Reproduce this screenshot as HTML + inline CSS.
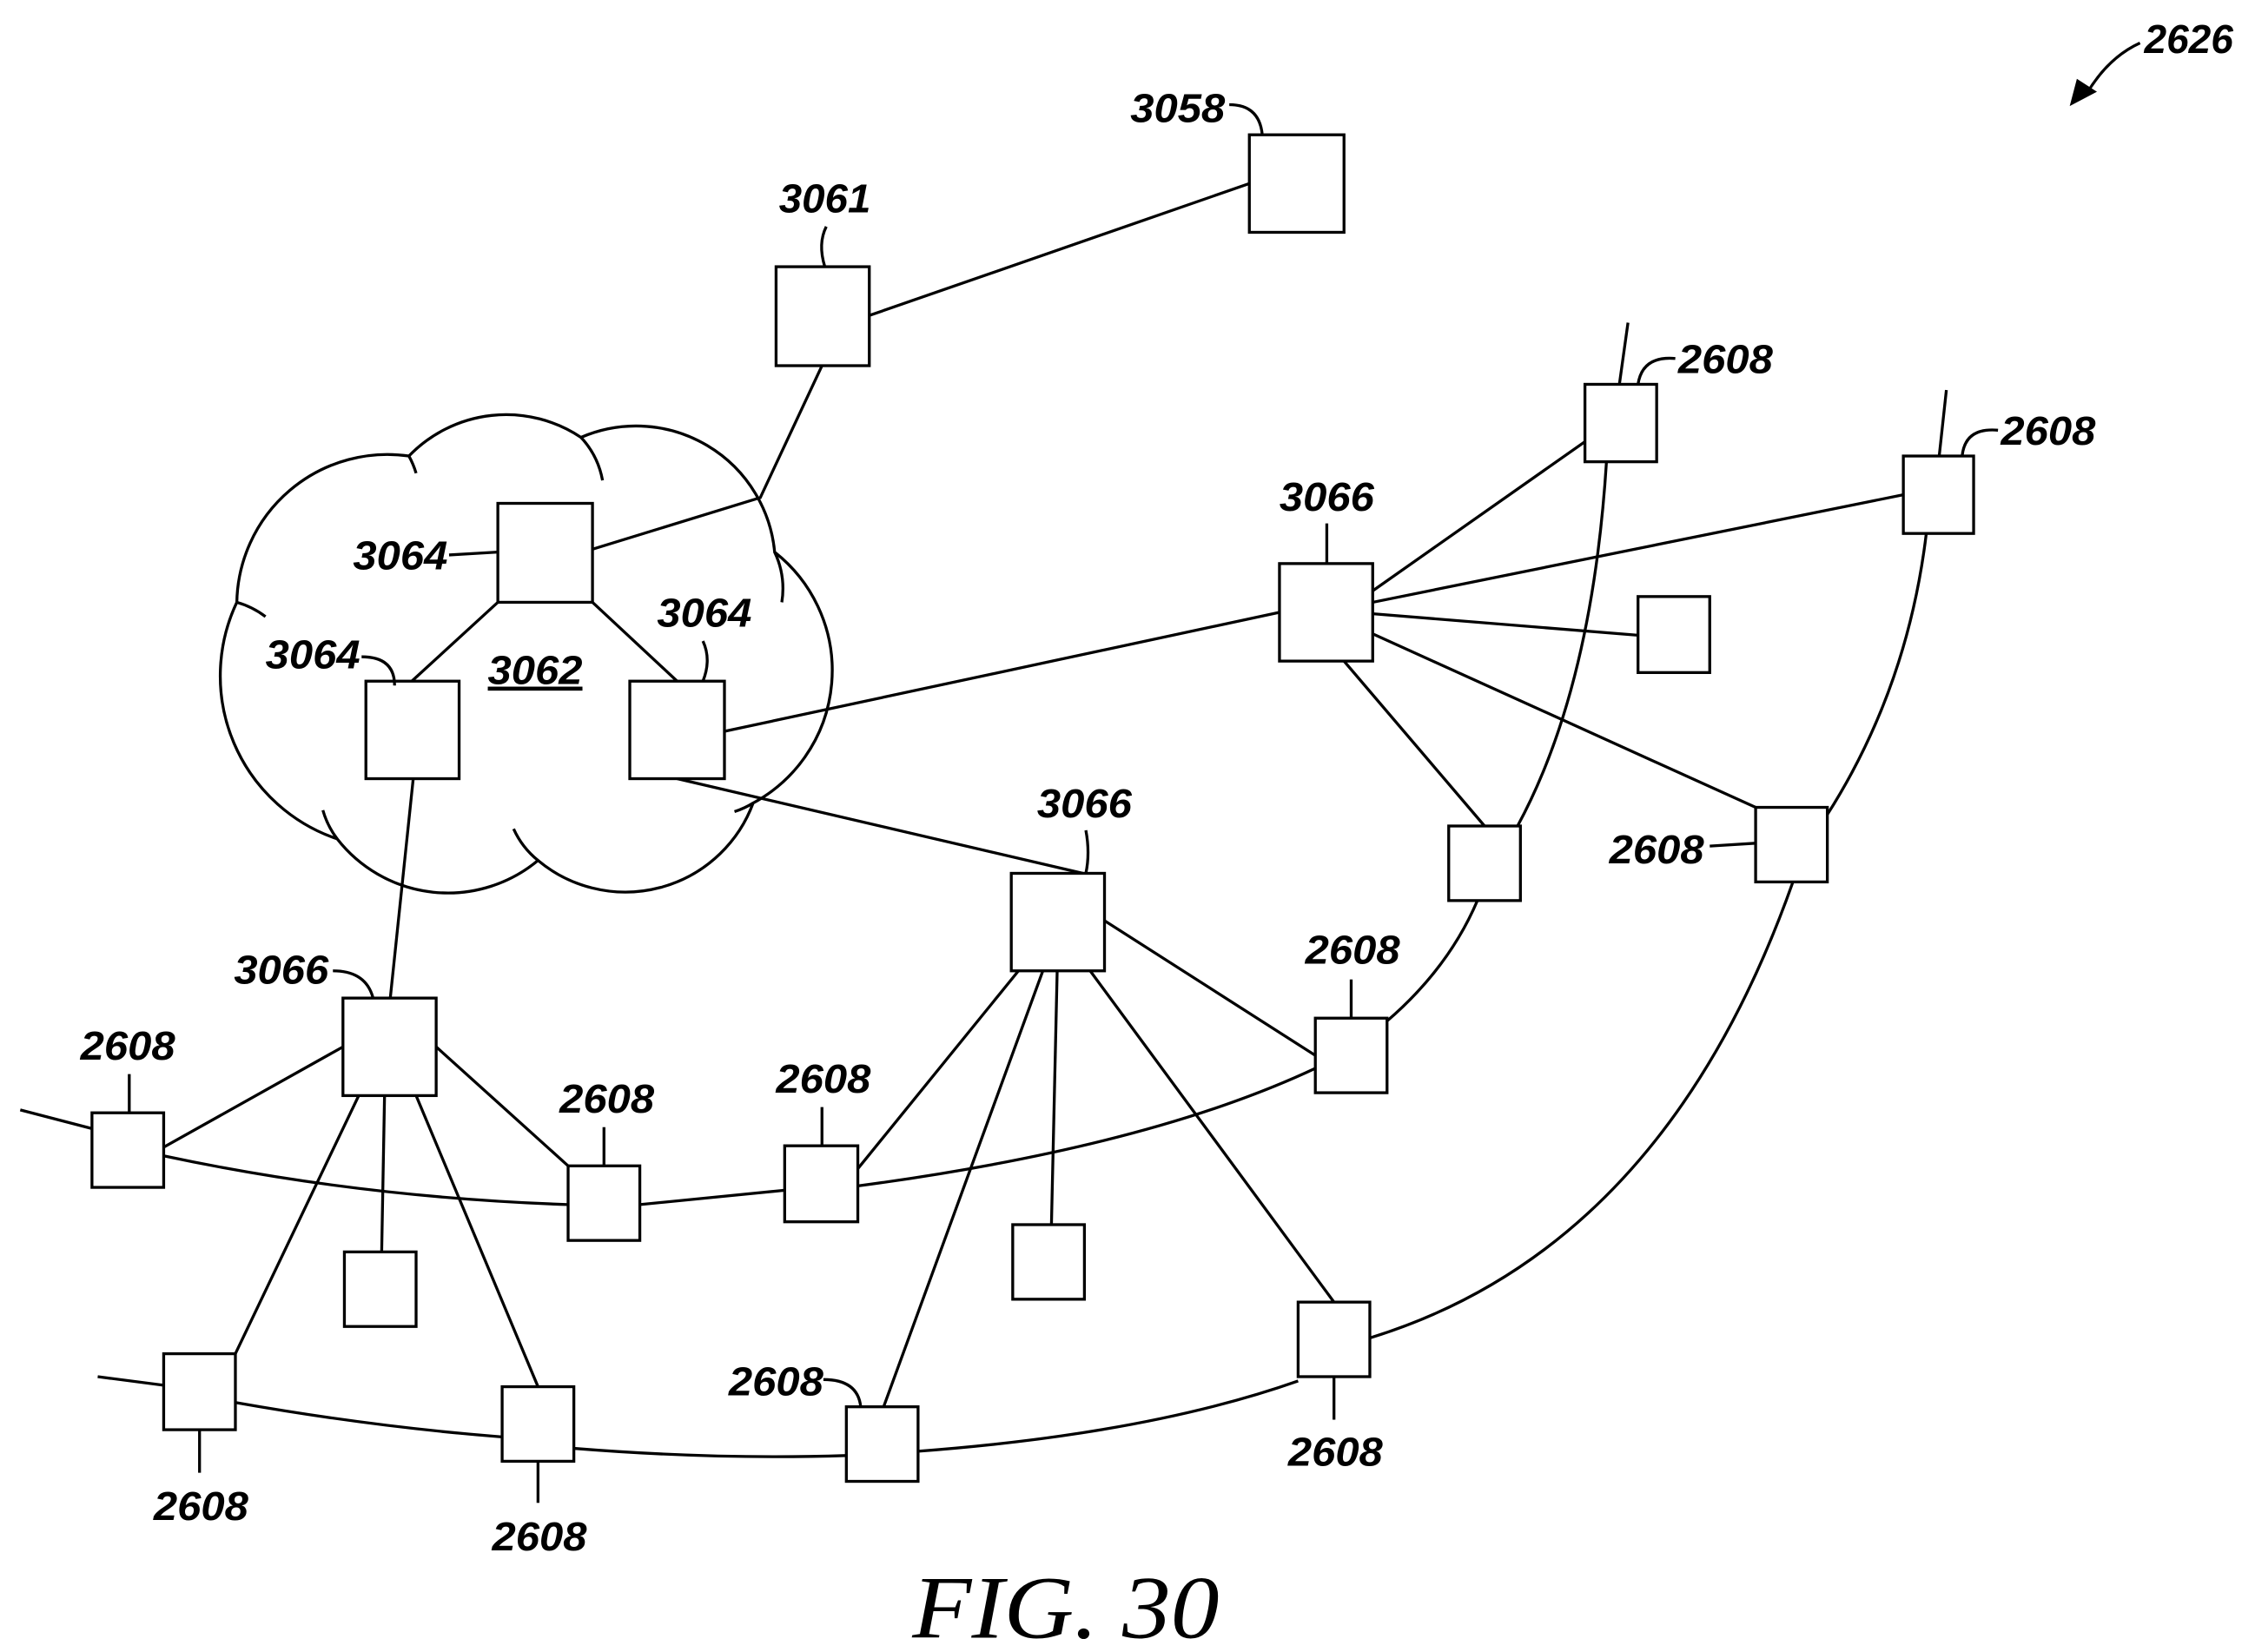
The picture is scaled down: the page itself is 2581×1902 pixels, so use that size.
<!DOCTYPE html>
<html><head><meta charset="utf-8"><style>html,body{margin:0;padding:0;background:#fff}svg{display:block}</style></head>
<body>
<svg width="2581" height="1902" viewBox="0 0 1563 1152" xmlns="http://www.w3.org/2000/svg">
<g fill="none" stroke="#000" stroke-width="2">
<!-- cloud -->
<path d="M 165,420 A 105 105 0 0 1 285,318 A 94 94 0 0 1 405,305 A 97 97 0 0 1 540,385 A 105 105 0 0 1 525,560 A 95 95 0 0 1 375,600 A 98 98 0 0 1 235,585 A 120 120 0 0 1 165,420 Z" fill="#fff"/>
<path d="M 165,420 A 60 60 0 0 1 185,430"/>
<path d="M 285,318 A 60 60 0 0 1 290,330"/>
<path d="M 405,305 A 60 60 0 0 1 420,335"/>
<path d="M 540,385 A 60 60 0 0 1 545,420"/>
<path d="M 525,560 A 60 60 0 0 1 512,566"/>
<path d="M 375,600 A 60 60 0 0 1 358,578"/>
<path d="M 235,585 A 60 60 0 0 1 225,565"/>
<!-- lines -->
<line x1="606" y1="220" x2="871" y2="128"/>
<polyline points="573,255 530,347 413,383"/>
<line x1="347" y1="420" x2="287" y2="475"/>
<line x1="413" y1="420" x2="472" y2="475"/>
<line x1="505" y1="510" x2="892" y2="427"/>
<line x1="472" y1="543" x2="755" y2="609"/>
<line x1="288" y1="543" x2="272" y2="696"/>
<line x1="957" y1="412" x2="1105" y2="308"/>
<line x1="957" y1="420" x2="1327" y2="345"/>
<line x1="957" y1="428" x2="1142" y2="443"/>
<line x1="957" y1="442" x2="1224" y2="563"/>
<line x1="937" y1="461" x2="1035" y2="576"/>
<line x1="1135" y1="225" x2="1129" y2="268"/>
<path d="M 1120,322 Q 1110,480 1058,576"/>
<path d="M 1030,628 Q 1010,675 967,712"/>
<line x1="1357" y1="272" x2="1352" y2="318"/>
<path d="M 1343,372 Q 1330,480 1274,568"/>
<path d="M 1250,615 Q 1160,870 955,933"/>
<line x1="770" y1="642" x2="917" y2="736"/>
<line x1="710" y1="677" x2="598" y2="815"/>
<line x1="737" y1="677" x2="733" y2="854"/>
<line x1="727" y1="677" x2="616" y2="981"/>
<line x1="760" y1="677" x2="930" y2="908"/>
<line x1="14" y1="774" x2="64" y2="787"/>
<path d="M 114,806 Q 250,835 396,840"/>
<line x1="446" y1="840" x2="547" y2="830"/>
<path d="M 598,827 Q 800,800 917,745"/>
<line x1="239" y1="730" x2="114" y2="800"/>
<line x1="304" y1="730" x2="396" y2="813"/>
<line x1="268" y1="764" x2="266" y2="873"/>
<line x1="250" y1="764" x2="164" y2="944"/>
<line x1="290" y1="764" x2="375" y2="967"/>
<line x1="68" y1="960" x2="114" y2="966"/>
<path d="M 164,978 Q 260,995 350,1002"/>
<path d="M 400,1010 Q 500,1018 590,1015"/>
<path d="M 640,1012 Q 800,1000 905,963"/>
<!-- boxes -->
<g fill="#fff">
<rect x="871" y="94" width="66" height="68"/>
<rect x="541" y="186" width="65" height="69"/>
<rect x="347" y="351" width="66" height="69"/>
<rect x="255" y="475" width="65" height="68"/>
<rect x="439" y="475" width="66" height="68"/>
<rect x="892" y="393" width="65" height="68"/>
<rect x="1105" y="268" width="50" height="54"/>
<rect x="1327" y="318" width="49" height="54"/>
<rect x="1142" y="416" width="50" height="53"/>
<rect x="1010" y="576" width="50" height="52"/>
<rect x="1224" y="563" width="50" height="52"/>
<rect x="705" y="609" width="65" height="68"/>
<rect x="917" y="710" width="50" height="52"/>
<rect x="547" y="799" width="51" height="53"/>
<rect x="706" y="854" width="50" height="52"/>
<rect x="905" y="908" width="50" height="52"/>
<rect x="590" y="981" width="50" height="52"/>
<rect x="239" y="696" width="65" height="68"/>
<rect x="64" y="776" width="50" height="52"/>
<rect x="396" y="813" width="50" height="52"/>
<rect x="240" y="873" width="50" height="52"/>
<rect x="114" y="944" width="50" height="53"/>
<rect x="350" y="967" width="50" height="52"/>
</g>
<!-- leaders -->
<path d="M 857,73 Q 878,73 880,94"/>
<path d="M 576,158 Q 570,170 575,186"/>
<line x1="313" y1="387" x2="347" y2="385"/>
<path d="M 252,458 Q 275,458 275,478"/>
<path d="M 490,447 Q 496,460 490,475"/>
<path d="M 925,365 L 925,393"/>
<path d="M 1168,250 Q 1145,248 1142,268"/>
<path d="M 1393,300 Q 1370,298 1368,318"/>
<line x1="1192" y1="590" x2="1224" y2="588"/>
<path d="M 757,579 Q 760,595 757,609"/>
<path d="M 942,683 L 942,710"/>
<path d="M 232,677 Q 255,677 260,696"/>
<path d="M 90,749 L 90,776"/>
<path d="M 421,786 L 421,813"/>
<path d="M 573,772 L 573,799"/>
<path d="M 574,962 Q 598,962 600,981"/>
<path d="M 930,960 L 930,990"/>
<path d="M 139,997 L 139,1027"/>
<path d="M 375,1019 L 375,1048"/>
<path d="M 1492,30 Q 1470,40 1455,65"/>
</g>
<polygon points="1443,74 1448,55 1462,64" fill="#000"/>
<g font-family="Liberation Sans, sans-serif" font-style="italic" font-weight="bold" font-size="28" fill="#000">
<text x="788" y="85" textLength="66" lengthAdjust="spacingAndGlyphs">3058</text>
<text x="543" y="148" textLength="64" lengthAdjust="spacingAndGlyphs">3061</text>
<text x="246" y="397" textLength="66" lengthAdjust="spacingAndGlyphs">3064</text>
<text x="185" y="466" textLength="66" lengthAdjust="spacingAndGlyphs">3064</text>
<text x="458" y="437" textLength="66" lengthAdjust="spacingAndGlyphs">3064</text>
<text x="340" y="477" textLength="66" lengthAdjust="spacingAndGlyphs" text-decoration="underline">3062</text>
<text x="892" y="356" textLength="66" lengthAdjust="spacingAndGlyphs">3066</text>
<text x="1170" y="260" textLength="66" lengthAdjust="spacingAndGlyphs">2608</text>
<text x="1395" y="310" textLength="66" lengthAdjust="spacingAndGlyphs">2608</text>
<text x="1122" y="602" textLength="66" lengthAdjust="spacingAndGlyphs">2608</text>
<text x="723" y="570" textLength="66" lengthAdjust="spacingAndGlyphs">3066</text>
<text x="910" y="672" textLength="66" lengthAdjust="spacingAndGlyphs">2608</text>
<text x="163" y="686" textLength="66" lengthAdjust="spacingAndGlyphs">3066</text>
<text x="56" y="739" textLength="66" lengthAdjust="spacingAndGlyphs">2608</text>
<text x="390" y="776" textLength="66" lengthAdjust="spacingAndGlyphs">2608</text>
<text x="541" y="762" textLength="66" lengthAdjust="spacingAndGlyphs">2608</text>
<text x="508" y="973" textLength="66" lengthAdjust="spacingAndGlyphs">2608</text>
<text x="898" y="1022" textLength="66" lengthAdjust="spacingAndGlyphs">2608</text>
<text x="107" y="1060" textLength="66" lengthAdjust="spacingAndGlyphs">2608</text>
<text x="343" y="1081" textLength="66" lengthAdjust="spacingAndGlyphs">2608</text>
<text x="1495" y="37" textLength="62" lengthAdjust="spacingAndGlyphs">2626</text>
</g>
<text x="636" y="1142" font-family="Liberation Serif, serif" font-style="italic" font-size="62" textLength="214" lengthAdjust="spacingAndGlyphs">FIG. 30</text>
</svg>
</body></html>
